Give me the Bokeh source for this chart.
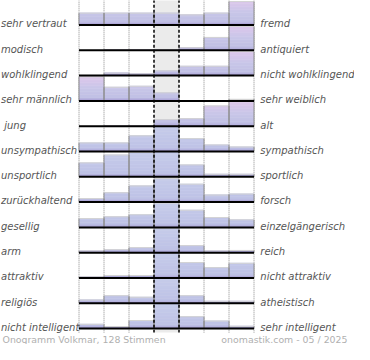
from bokeh.plotting import figure
from bokeh.models import Range1d, ColumnDataSource
from bokeh.core.properties import value
from bokeh.embed import file_html
from bokeh.resources import INLINE

# ---------------- data ----------------
left_labels = ["sehr vertraut", "modisch", "wohlklingend", "sehr männlich", "\u00a0jung",
               "unsympathisch", "unsportlich", "zurückhaltend", "gesellig", "arm",
               "attraktiv", "religiös", "nicht intelligent"]
right_labels = ["fremd", "antiquiert", "nicht wohlklingend", "sehr weiblich", "alt",
                "sympathisch", "sportlich", "forsch", "einzelgängerisch", "reich",
                "nicht attraktiv", "atheistisch", "sehr intelligent"]
# bar heights per scale row, 7 rating steps (100 = one row height)
r01 = [47, 47, 47, 47, 40, 47, 93]
r02 = [0, 2, 2, 2, 10, 51, 94]
r03 = [0, 10, 7, 19, 37, 37, 95]
r04 = [95, 54, 58, 32, 0, 0, 6]
r05 = [0, 2, 2, 26, 30, 80, 106]
r06 = [34, 34, 62, 100, 51, 26, 18]
r07 = [55, 86, 96, 100, 47, 10, 10]
r08 = [14, 37, 64, 93, 71, 28, 32]
r09 = [35, 42, 50, 96, 68, 39, 30]
r10 = [7, 12, 20, 97, 28, 7, 9]
r11 = [5, 10, 10, 100, 61, 41, 58]
r12 = [13, 30, 24, 100, 30, 8, 8]
r13 = [17, 8, 32, 100, 47, 30, 9]
rows = [r01, r02, r03, r04, r05, r06, r07, r08, r09, r10, r11, r12, r13]
footer_left = "Onogramm Volkmar, 128 Stimmen"
footer_right = "onomastik.com - 05 / 2025"

# ---------------- layout ----------------
W, H = 354, 344
XL, CW = 78.5, 25.0
RH = 25.3
TOP = -0.8
NC = 7
NR = len(rows)

p = figure(width=W, height=H, output_backend="svg", toolbar_location=None,
           min_border=0, x_axis_location=None, y_axis_location=None,
           x_range=Range1d(-XL / CW, (W - XL) / CW),
           y_range=Range1d((H - TOP) / RH, -TOP / RH))
p.grid.visible = False
p.outline_line_color = None
p.background_fill_color = "white"
p.border_fill_color = "white"

bottom_all = NR + 4 / RH

# center column background
p.quad(left=[3], right=[4], top=[0], bottom=[bottom_all], fill_color="#ebebeb", line_color=None)

# dotted separators
for xe in [0, 1, 2, 5, 6, 7]:
    p.segment(x0=[xe], y0=[0], x1=[xe], y1=[bottom_all], line_color="#8a8a8a",
              line_dash="1 1", line_width=1)

# gradient styles
stops_pink = [(0, (150, 136, 200)), (6, (178, 172, 220)), (14, (192, 192, 228)),
              (50, (200, 198, 232)), (75, (212, 198, 234)), (100, (222, 200, 234)), (200, (222, 200, 234))]
stops_blue = [(0, (150, 136, 200)), (6, (178, 174, 220)), (14, (190, 194, 230)),
              (100, (198, 204, 234)), (200, (198, 204, 234))]


def col_at(h, stops):
    for (h0, c0), (h1, c1) in zip(stops[:-1], stops[1:]):
        if h0 <= h <= h1:
            t = (h - h0) / (h1 - h0)
            c = [round(a + (b - a) * t) for a, b in zip(c0, c1)]
            return "#%02x%02x%02x" % tuple(c)
    return "#%02x%02x%02x" % stops[-1][1]


sl = dict(left=[], right=[], top=[], bottom=[], color=[])
edges = dict(x0=[], y0=[], x1=[], y1=[])
tops = dict(x0=[], y0=[], x1=[], y1=[])
STEP = 3.0
for r, vals in enumerate(rows):
    stops = stops_pink if r < 5 else stops_blue
    base = r + 1
    for c, v in enumerate(vals):
        if v <= 0:
            continue
        h = 0.0
        while h < v:
            h2 = min(v, h + STEP)
            sl["left"].append(c)
            sl["right"].append(c + 1)
            sl["bottom"].append(base - h / 100)
            sl["top"].append(base - h2 / 100 - 0.02)
            sl["color"].append(col_at((h + h2) / 2, stops))
            h = h2
        topy = base - v / 100
        for xe in (c, c + 1):
            edges["x0"].append(xe); edges["x1"].append(xe)
            edges["y0"].append(base); edges["y1"].append(topy)
        tops["x0"].append(c); tops["x1"].append(c + 1)
        tops["y0"].append(topy); tops["y1"].append(topy)

p.quad(source=ColumnDataSource(sl), left="left", right="right", top="top", bottom="bottom",
       fill_color="color", line_color=None)
p.segment(source=ColumnDataSource(tops), x0="x0", y0="y0", x1="x1", y1="y1",
          line_color="#d4d4d4", line_width=1)
p.segment(source=ColumnDataSource(edges), x0="x0", y0="y0", x1="x1", y1="y1",
          line_color="#8c8c8c", line_width=1)

# dashed center borders
for xe in [3, 4]:
    p.segment(x0=[xe], y0=[0], x1=[xe], y1=[bottom_all], line_color="black",
              line_dash="3 2", line_width=1.5)

# baselines
p.segment(x0=[0] * NR, x1=[NC] * NR, y0=[r + 1 for r in range(NR)], y1=[r + 1 for r in range(NR)],
          line_color="black", line_width=2)

# labels
ty = [r + 1 - 1.2 / RH for r in range(NR)]
p.text(x=[-XL / CW + 0.5 / CW] * NR, y=ty, text=left_labels, text_font=value("DejaVu Sans"),
       text_font_size="10px", text_font_style="italic", text_color="#555555",
       text_baseline="alphabetic", text_align="left")
p.text(x=[NC + 6.3 / CW] * NR, y=ty, text=right_labels, text_font=value("DejaVu Sans"),
       text_font_size="10px", text_font_style="italic", text_color="#555555",
       text_baseline="alphabetic", text_align="left")

fy = (339 - TOP) / RH
p.text(x=[-XL / CW + 2 / CW], y=[fy], text=[footer_left], text_font=value("DejaVu Sans"),
       text_font_size="9.4px", text_color="#b0b0b0", text_baseline="alphabetic", text_align="left")
p.text(x=[(347 - XL) / CW], y=[fy], text=[footer_right], text_font=value("DejaVu Sans"),
       text_font_size="9.4px", text_color="#b0b0b0", text_baseline="alphabetic", text_align="right")

open("out.html", "w").write(file_html(p, INLINE))
